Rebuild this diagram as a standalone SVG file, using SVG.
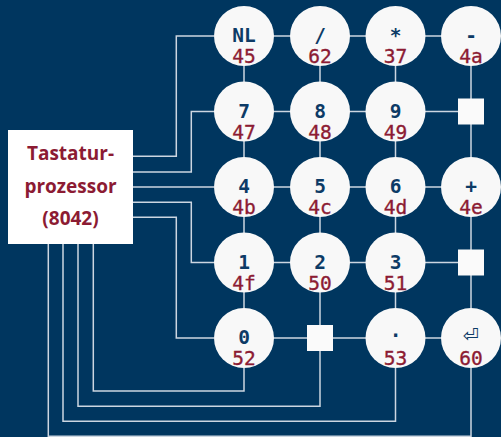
<svg xmlns="http://www.w3.org/2000/svg" width="501" height="437" viewBox="0 0 501 437">
  <style>
    .wire { fill: none; stroke: #ccd6e1; stroke-width: 1.5; }
    .key { fill: #f8f8f8; }
    .sq { fill: #fafafa; }
    .lbl { font-family: "DejaVu Sans Mono", "Liberation Mono", monospace; font-weight: bold; font-size: 19.5px; fill: #0d3b66; text-anchor: middle; }
    .code { font-family: "DejaVu Sans Mono", "Liberation Mono", monospace; font-size: 19.5px; fill: #8c1b33; text-anchor: middle; stroke: #8c1b33; stroke-width: 0.35; }
    .ctrl { font-family: "Open Sans", "Noto Sans", sans-serif; font-weight: bold; font-size: 19px; fill: #8c1b33; text-anchor: middle; }
    .ret { font-family: "DejaVu Sans", sans-serif; font-size: 19px; fill: #0d3b66; text-anchor: middle; }
  </style>
  <rect width="501" height="437" fill="#00365f"/>

  <!-- connectors: key matrix grid and wires from the controller -->
  <g id="connectors" class="wire">
    <!-- rows -->
    <path d="M244 36H471M244 111.5H471M244 187H471M244 262.5H471M244 338H471"/>
    <!-- columns -->
    <path d="M244 36V338M320 36V338M395.5 36V338M471 36V338"/>
    <!-- lines from the right side of the controller -->
    <path d="M133 156.3H176.3V36H214"/>
    <path d="M133 172H191.3V111.5H214"/>
    <path d="M133 187H214"/>
    <path d="M133 202.3H191.3V262.5H214"/>
    <path d="M133 217.3H176.3V338H214"/>
    <!-- lines from the bottom of the controller -->
    <path d="M93.3 244V391H244V368"/>
    <path d="M78 244V406.3H320V351"/>
    <path d="M63 244V421.3H395.5V368"/>
    <path d="M48.3 244V436.3H471V368"/>
  </g>

  <!-- keyboard controller -->
  <g id="controller">
    <rect x="8" y="130" width="125" height="114" fill="#ffffff"/>
    <text class="ctrl" x="70.5" y="160">Tastatur-</text>
    <text class="ctrl" x="70.5" y="192.5">prozessor</text>
    <text class="ctrl" x="70.5" y="225">(8042)</text>
  </g>

  <!-- row 1 -->
  <g id="key-nl"><circle class="key" cx="244" cy="36" r="30"/><text class="lbl" x="244" y="42">NL</text><text class="code" x="244" y="63">45</text></g>
  <g id="key-slash"><circle class="key" cx="320" cy="36" r="30"/><text class="lbl" x="320" y="42">/</text><text class="code" x="320" y="63">62</text></g>
  <g id="key-star"><circle class="key" cx="395.5" cy="36" r="30"/><text class="lbl" x="395.5" y="42">*</text><text class="code" x="395.5" y="63">37</text></g>
  <g id="key-minus"><circle class="key" cx="471" cy="36" r="30"/><text class="lbl" x="471" y="42">-</text><text class="code" x="471" y="63">4a</text></g>

  <!-- row 2 -->
  <g id="key-7"><circle class="key" cx="244" cy="111.5" r="30"/><text class="lbl" x="244" y="117.5">7</text><text class="code" x="244" y="138.5">47</text></g>
  <g id="key-8"><circle class="key" cx="320" cy="111.5" r="30"/><text class="lbl" x="320" y="117.5">8</text><text class="code" x="320" y="138.5">48</text></g>
  <g id="key-9"><circle class="key" cx="395.5" cy="111.5" r="30"/><text class="lbl" x="395.5" y="117.5">9</text><text class="code" x="395.5" y="138.5">49</text></g>
  <g id="node-r2c4"><rect class="sq" x="458" y="98.5" width="26" height="26"/></g>

  <!-- row 3 -->
  <g id="key-4"><circle class="key" cx="244" cy="187" r="30"/><text class="lbl" x="244" y="193">4</text><text class="code" x="244" y="214">4b</text></g>
  <g id="key-5"><circle class="key" cx="320" cy="187" r="30"/><text class="lbl" x="320" y="193">5</text><text class="code" x="320" y="214">4c</text></g>
  <g id="key-6"><circle class="key" cx="395.5" cy="187" r="30"/><text class="lbl" x="395.5" y="193">6</text><text class="code" x="395.5" y="214">4d</text></g>
  <g id="key-plus"><circle class="key" cx="471" cy="187" r="30"/><text class="lbl" x="471" y="193">+</text><text class="code" x="471" y="214">4e</text></g>

  <!-- row 4 -->
  <g id="key-1"><circle class="key" cx="244" cy="262.5" r="30"/><text class="lbl" x="244" y="268.5">1</text><text class="code" x="244" y="289.5">4f</text></g>
  <g id="key-2"><circle class="key" cx="320" cy="262.5" r="30"/><text class="lbl" x="320" y="268.5">2</text><text class="code" x="320" y="289.5">50</text></g>
  <g id="key-3"><circle class="key" cx="395.5" cy="262.5" r="30"/><text class="lbl" x="395.5" y="268.5">3</text><text class="code" x="395.5" y="289.5">51</text></g>
  <g id="node-r4c4"><rect class="sq" x="458" y="249.5" width="26" height="26"/></g>

  <!-- row 5 -->
  <g id="key-0"><circle class="key" cx="244" cy="338" r="30"/><text class="lbl" x="244" y="344">0</text><text class="code" x="244" y="365">52</text></g>
  <g id="node-r5c2"><rect class="sq" x="307" y="325" width="26" height="26"/></g>
  <g id="key-dot"><circle class="key" cx="395.5" cy="338" r="30"/><text class="lbl" x="395.5" y="337">.</text><text class="code" x="395.5" y="365">53</text></g>
  <g id="key-enter"><circle class="key" cx="471" cy="338" r="30"/><text class="ret" x="471" y="342">⏎</text><text class="code" x="471" y="365">60</text></g>
</svg>
